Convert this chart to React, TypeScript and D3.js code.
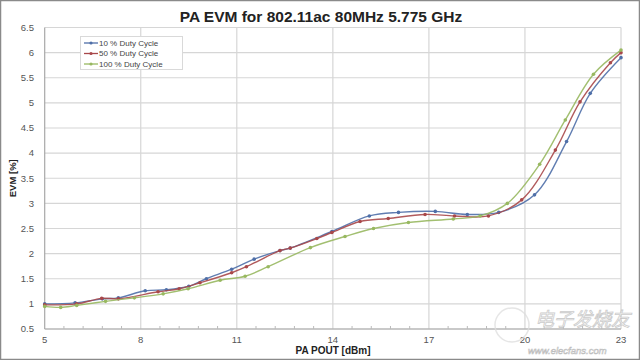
import React from "react";
import * as d3 from "d3";

const xTicks = [5, 8, 11, 14, 17, 20, 23];
const yTicks = [0.5, 1, 1.5, 2, 2.5, 3, 3.5, 4, 4.5, 5, 5.5, 6, 6.5];

const seriesNames = ["10 % Duty Cycle", "50 % Duty Cycle", "100 % Duty Cycle"];
const seriesColors = ["#4f6fa8", "#a8484a", "#98b860"];

const x10 = [5, 5.95, 6.8, 7.3, 8.14, 8.8, 9.5, 10.05, 10.84, 11.54, 12.35, 12.67, 13.97, 15.14, 16.05, 17.2, 18.2, 19.18, 20.3, 21.3, 22.04, 23];
const y10 = [1.0, 1.02, 1.1, 1.12, 1.26, 1.28, 1.35, 1.5, 1.69, 1.89, 2.06, 2.11, 2.44, 2.75, 2.82, 2.84, 2.78, 2.82, 3.17, 4.23, 5.19, 5.9];

const x50 = [5, 6, 6.78, 7.3, 8.54, 9.2, 9.85, 10.84, 11.3, 12.35, 12.67, 13.5, 13.97, 14.85, 15.73, 16.88, 17.8, 18.86, 19.9, 20.95, 21.72, 22.67, 23];
const y50 = [0.98, 1.0, 1.11, 1.1, 1.24, 1.3, 1.42, 1.62, 1.74, 2.06, 2.11, 2.3, 2.42, 2.64, 2.7, 2.78, 2.75, 2.75, 3.07, 4.06, 5.02, 5.8, 6.0];

const x100 = [5, 5.5, 6, 6.9, 7.8, 8.7, 9.48, 10.48, 11.26, 11.98, 13.3, 14.38, 15.27, 16.36, 17.76, 18.6, 19.45, 20.46, 21.26, 22.14, 23];
const y100 = [0.95, 0.93, 0.97, 1.05, 1.12, 1.2, 1.3, 1.47, 1.55, 1.74, 2.12, 2.34, 2.5, 2.62, 2.69, 2.75, 3.0, 3.78, 4.66, 5.57, 6.05];

const seriesX = [x10, x50, x100];
const seriesY = [y10, y50, y100];

export default function App() {
  const W = 640, H = 360;
  const left = 44.7, right = 621, top = 27.5, bottom = 329;
  const x = d3.scaleLinear().domain([5, 23]).range([left, right]);
  const y = d3.scaleLinear().domain([0.5, 6.5]).range([bottom, top]);
  const line = d3
    .line<[number, number]>()
    .x((d) => x(d[0]))
    .y((d) => y(d[1]))
    .curve(d3.curveCatmullRom.alpha(0.5));

  const minor: number[] = [];
  for (let i = 0; i < 6; i++) {
    for (let k = 1; k < 5; k++) minor.push(5 + i * 3 + k * 0.6);
  }

  const font = "'Liberation Sans', Arial, sans-serif";

  return (
    <svg width={W} height={H} style={{ position: "absolute", left: 0, top: 0, background: "#fff" }} fontFamily={font}>
      <rect x={0.5} y={0.5} width={W - 1} height={H - 1} fill="#fff" stroke="#8a8a8a" strokeWidth={1.5} />
      {yTicks.map((t) => (
        <line key={"hy" + t} x1={left} x2={right} y1={y(t)} y2={y(t)} stroke="#d6d6d6" strokeWidth={1.2} />
      ))}
      {xTicks.slice(1).map((t) => (
        <line key={"vx" + t} x1={x(t)} x2={x(t)} y1={top} y2={bottom} stroke="#d6d6d6" strokeWidth={1.2} />
      ))}
      <line x1={left} x2={left} y1={top} y2={bottom} stroke="#a8a8a8" strokeWidth={1.2} />
      <line x1={left} x2={right} y1={bottom} y2={bottom} stroke="#a8a8a8" strokeWidth={1.2} />
      {minor.map((t, i) => (
        <line key={"mt" + i} x1={x(t)} x2={x(t)} y1={bottom} y2={bottom - 3} stroke="#bbb" strokeWidth={1} />
      ))}
      {yTicks.map((t) => (
        <text key={"yl" + t} x={34} y={y(t)} dy="0.35em" textAnchor="end" fontSize={9.5} fill="#555">
          {t}
        </text>
      ))}
      {xTicks.map((t) => (
        <text key={"xl" + t} x={x(t)} y={343} textAnchor="middle" fontSize={9.5} fill="#555">
          {t}
        </text>
      ))}
      {seriesX.map((xs, si) => {
        const pts: [number, number][] = xs.map((v, i) => [v, seriesY[si][i]]);
        return (
          <g key={"s" + si}>
            <path d={line(pts) || ""} fill="none" stroke={seriesColors[si]} strokeWidth={1.4} opacity={0.9} />
            {pts.map((p, i) => (
              <circle key={i} cx={x(p[0])} cy={y(p[1])} r={1.8} fill={seriesColors[si]} />
            ))}
          </g>
        );
      })}
      <rect x={80.5} y={36.5} width={102} height={33} fill="#fff" stroke="#d9d9d9" />
      {seriesNames.map((n, i) => (
        <g key={"lg" + i}>
          <line x1={84} x2={98} y1={43 + i * 10.5} y2={43 + i * 10.5} stroke={seriesColors[i]} strokeWidth={1.3} />
          <circle cx={91} cy={43 + i * 10.5} r={1.6} fill={seriesColors[i]} />
          <text x={99} y={43 + i * 10.5} dy="0.35em" fontSize={8} fill="#444">
            {n}
          </text>
        </g>
      ))}
      <text x={321} y={22} textAnchor="middle" fontSize={15.5} fontWeight="bold" fill="#222">
        PA EVM for 802.11ac 80MHz 5.775 GHz
      </text>
      <text transform={`translate(13,${(top + bottom) / 2}) rotate(-90)`} textAnchor="middle" dy="0.35em" fontSize={9.5} fontWeight="bold" fill="#222">
        EVM [%]
      </text>
      <text x={333} y={354} textAnchor="middle" fontSize={10} fontWeight="bold" fill="#222">
        PA POUT [dBm]
      </text>
      <g opacity={0.75}>
        <circle cx={512} cy={325} r={17} fill="none" stroke="#ddd" strokeWidth={1.5} />
        <text x={535} y={326} fontSize={19} fill="#fff" stroke="#bbb" strokeWidth={0.8} fontFamily="'Noto Sans CJK SC', sans-serif" fontStyle="italic">
          电子发烧友
        </text>
        <text x={528} y={354} fontSize={9.5} fill="#fff" stroke="#aaa" strokeWidth={0.6} fontStyle="italic">
          www.elecfans.com
        </text>
      </g>
    </svg>
  );
}
